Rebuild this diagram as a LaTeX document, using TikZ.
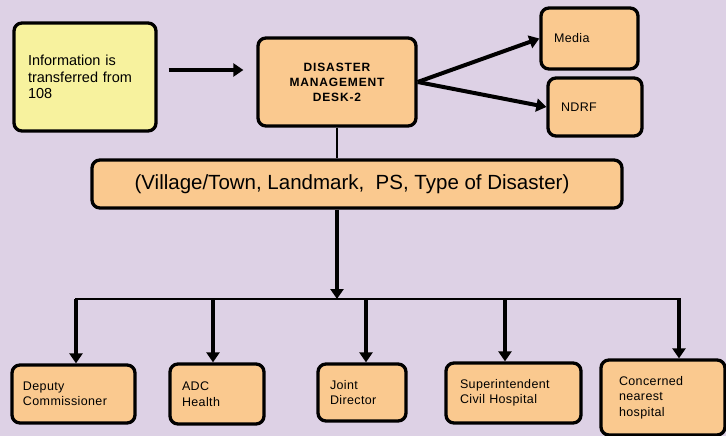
\documentclass[tikz,border=0pt]{standalone}
\usepackage{fontspec}
\setmainfont{Liberation Sans}
\usetikzlibrary{arrows.meta}
\definecolor{bgc}{HTML}{DDD1E5}
\definecolor{yel}{HTML}{F7F29E}
\definecolor{ora}{HTML}{FAC98F}
\tikzset{
  box/.style={draw=black, line width=3.3pt, rounded corners=8pt, inner ysep=0pt, align=left},
  ybox/.style={box, fill=yel},
  obox/.style={box, fill=ora},
  arr/.style={line width=4pt, -{Triangle[width=13pt,length=10pt]}},
  thin line/.style={line width=1.2pt},
  smalltxt/.style={font=\fontsize{12.5}{15.5}\selectfont\addfontfeatures{LetterSpace=3}}
}
\begin{document}
\begin{tikzpicture}[x=1pt,y=-1pt]
\fill[bgc] (0,0) rectangle (726,436);
\useasboundingbox (0,0) rectangle (726,436);

\node[ybox, inner xsep=14pt, text width=114pt, minimum height=108pt,
  font=\fontsize{14.5}{16.7}\selectfont] (info) at (85,77)
  {Information is\\transferred from\\108};

\node[obox, align=center, minimum width=158pt, minimum height=88pt,
  font=\fontsize{12}{15}\selectfont\bfseries\addfontfeatures{LetterSpace=7}] (dm) at (337,82)
  {DISASTER\\MANAGEMENT\\DESK-2};

\node[obox, smalltxt, inner xsep=13pt, text width=71pt, minimum height=61pt] (media) at (589.5,38.5) {Media};
\node[obox, smalltxt, inner xsep=13pt, text width=68pt, minimum height=58pt] (ndrf) at (595,107) {NDRF};

\node[obox, align=center, minimum width=530pt, minimum height=48pt,
  font=\fontsize{20.5}{24}\selectfont] (banner) at (357,184)
  {(Village/Town, Landmark,\ \ PS, Type of Disaster)\hspace*{10pt}};

\node[obox, smalltxt, inner xsep=11pt, text width=101pt, minimum height=58pt] (dc) at (73.5,394) {Deputy\\Commissioner};
\node[obox, smalltxt, inner xsep=12pt, text width=70pt, minimum height=60pt] (adc) at (217,394) {ADC\\Health};
\node[obox, smalltxt, inner xsep=12pt, text width=64pt, minimum height=57pt] (jd) at (362,392.5) {Joint\\Director};
\node[obox, smalltxt, inner xsep=14pt, text width=107pt, minimum height=60pt] (sup) at (513.5,393) {Superintendent\\Civil Hospital};
\node[obox, smalltxt, inner xsep=18pt, text width=88pt, minimum height=75pt] (chn) at (663,397.5) {Concerned\\nearest\\hospital};

% connectors
\draw[arr, shorten <=11pt, shorten >=13pt] ([yshift=7pt]info.east) -- ([yshift=7pt]info.east -| dm.west);
\draw[arr] (dm.east) -- (media.west);
\draw[arr] (dm.east) -- (ndrf.west);
\draw[thin line] (dm.south) -- (dm.south |- banner.north);

\coordinate (bus) at (337,299);
\coordinate (busL) at (75,299);
\coordinate (busR) at (681,299);
\draw[arr] (dm.south |- banner.south) -- (bus);
\draw[line width=1.5pt] (busL) -- (busR);

\draw[arr] ([xshift=2.5pt]dc.north |- bus) -- ([xshift=2.5pt]dc.north);
\draw[arr] ([xshift=-4pt]adc.north |- bus) -- ([xshift=-4pt]adc.north);
\draw[arr] ([xshift=4pt]jd.north |- bus) -- ([xshift=4pt]jd.north);
\draw[arr] ([xshift=-8.5pt]sup.north |- bus) -- ([xshift=-8.5pt]sup.north);
\draw[arr] ([xshift=16pt]chn.north |- bus) -- ([xshift=16pt]chn.north);
\end{tikzpicture}
\end{document}
